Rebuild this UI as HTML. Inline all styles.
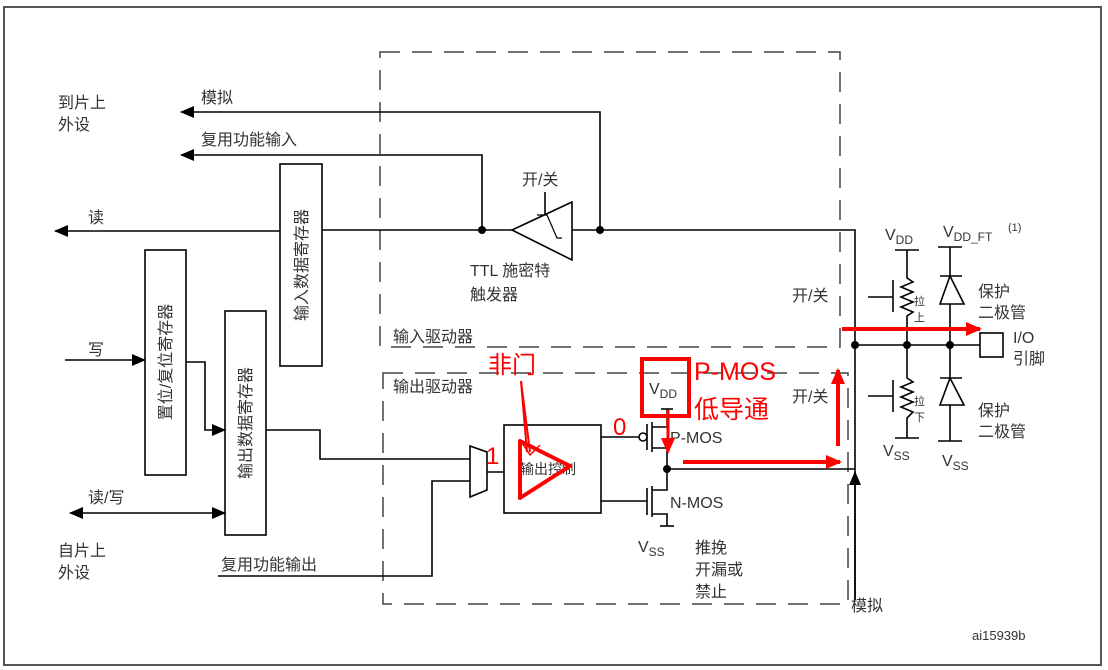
<!DOCTYPE html>
<html><head><meta charset="utf-8"><style>
html,body{margin:0;padding:0;background:#fff;}
svg{display:block;}
text{font-family:"Liberation Sans","Noto Sans CJK SC",sans-serif;fill:#333;}
</style></head><body>
<svg width="1108" height="670" viewBox="0 0 1108 670" xmlns="http://www.w3.org/2000/svg">
<defs>
<marker id="ab2" markerWidth="14" markerHeight="12" refX="13" refY="6" orient="auto-start-reverse" markerUnits="userSpaceOnUse"><path d="M0,0 L14,6 L0,12 z" fill="#000"/></marker>
<marker id="ar" markerWidth="16" markerHeight="14" refX="14" refY="7" orient="auto" markerUnits="userSpaceOnUse"><path d="M0,0 L16,7 L0,14 z" fill="#f00"/></marker>
</defs>
<rect x="4" y="7" width="1097" height="658" fill="none" stroke="#555" stroke-width="2"/>

<g fill="none" stroke="#444" stroke-width="1.5" stroke-dasharray="20,12">
<rect x="380" y="52" width="460" height="295"/>
<rect x="383" y="373" width="465" height="231"/>
</g>

<g stroke="#000" stroke-width="1.6" fill="none">
<polyline points="600,230 600,112 181,112" marker-end="url(#ab2)"/>
<polyline points="482,230 482,155 181,155" marker-end="url(#ab2)"/>
<line x1="280" y1="231" x2="55" y2="231" marker-end="url(#ab2)"/>
<line x1="322" y1="230" x2="512" y2="230"/>
<polyline points="572,230 855,230 855,600"/>
<line x1="855" y1="600" x2="855" y2="472" marker-end="url(#ab2)"/>
<polygon points="512,230 572,202 572,260" fill="#fff"/>
<polyline points="537,215 547,215 557,238 562,238" stroke-width="1.2"/>
<line x1="545" y1="192" x2="545" y2="214"/>
<rect x="280" y="164" width="42" height="202" fill="#fff"/>
<rect x="145" y="250" width="41" height="225" fill="#fff"/>
<rect x="225" y="311" width="41" height="224" fill="#fff"/>
<line x1="65" y1="360" x2="145" y2="360" marker-end="url(#ab2)"/>
<polyline points="186,362 205,362 205,430 225,430" marker-end="url(#ab2)"/>
<line x1="70" y1="513" x2="225" y2="513" marker-start="url(#ab2)" marker-end="url(#ab2)"/>
<polyline points="266,430 320,430 320,459 470,459"/>
<polyline points="218,576 432,576 432,481 470,481"/>
<polygon points="470,446 487,452 487,490 470,497" fill="#fff"/>
<line x1="487" y1="472" x2="504" y2="472"/>
<rect x="504" y="425" width="97" height="88" fill="#fff"/>
<line x1="601" y1="437" x2="639" y2="437"/>
<circle cx="643" cy="437" r="4" fill="#fff"/>
<line x1="647" y1="424" x2="647" y2="450"/>
<line x1="652" y1="422" x2="652" y2="452"/>
<polyline points="652,427 667,427 667,409"/>
<line x1="661" y1="409" x2="673" y2="409"/>
<polyline points="652,448 667,448 667,469"/>
<line x1="601" y1="501" x2="647" y2="501"/>
<line x1="647" y1="488" x2="647" y2="515"/>
<line x1="652" y1="486" x2="652" y2="517"/>
<polyline points="667,469 667,490 652,490"/>
<polyline points="652,514 667,514 667,526"/>
<line x1="660" y1="526" x2="674" y2="526"/>
<line x1="667" y1="469" x2="855" y2="469"/>
<line x1="855" y1="345" x2="980" y2="345"/>
<rect x="980" y="333" width="23" height="24" fill="#fff"/>
<line x1="895" y1="250" x2="919" y2="250"/>
<polyline points="907,250 907,278 913,282 901,287 913,292 901,297 913,302 901,307 913,312 907,316 907,345"/>
<line x1="893" y1="280" x2="893" y2="312"/>
<line x1="868" y1="297" x2="893" y2="297"/>
<polyline points="907,345 907,378 913,382 901,387 913,392 901,397 913,402 901,407 913,412 907,418 907,438"/>
<line x1="895" y1="438" x2="919" y2="438"/>
<line x1="893" y1="380" x2="893" y2="412"/>
<line x1="868" y1="396" x2="893" y2="396"/>
<line x1="938" y1="247" x2="962" y2="247"/>
<line x1="950" y1="247" x2="950" y2="441"/>
<polygon points="950,276 940,304 964,304" fill="#fff"/>
<line x1="940" y1="276" x2="962" y2="276"/>
<polygon points="950,378 940,405 964,405" fill="#fff"/>
<line x1="940" y1="378" x2="962" y2="378"/>
<line x1="938" y1="441" x2="962" y2="441"/>
</g>
<g fill="#000">
<circle cx="482" cy="230" r="4"/><circle cx="600" cy="230" r="4"/>
<circle cx="855" cy="345" r="4"/><circle cx="907" cy="345" r="4"/><circle cx="950" cy="345" r="4"/>
<circle cx="667" cy="469" r="4"/>
</g>

<g font-size="16">
<text x="58" y="108">到片上</text><text x="58" y="130">外设</text>
<text x="201" y="103">模拟</text>
<text x="201" y="145">复用功能输入</text>
<text x="88" y="223">读</text>
<text x="88" y="355">写</text>
<text x="88" y="503">读/写</text>
<text x="58" y="556">自片上</text><text x="58" y="578">外设</text>
<text x="221" y="570">复用功能输出</text>
<text x="522" y="185">开/关</text>
<text x="470" y="276">TTL 施密特</text>
<text x="470" y="300">触发器</text>
<text x="393" y="342">输入驱动器</text>
<text x="393" y="392">输出驱动器</text>
<text x="520" y="474" font-size="14">输出控制</text>
<text x="792" y="301">开/关</text>
<text x="792" y="402">开/关</text>
<text x="670" y="443">P-MOS</text>
<text x="670" y="508">N-MOS</text>
<text x="638" y="552">V<tspan font-size="12" dy="4">SS</tspan></text>
<text x="695" y="553">推挽</text><text x="695" y="575">开漏或</text><text x="695" y="597">禁止</text>
<text x="851" y="611">模拟</text>
<text x="649" y="394">V<tspan font-size="12" dy="4">DD</tspan></text>
<text x="885" y="240">V<tspan font-size="12" dy="4">DD</tspan></text>
<text x="943" y="237">V<tspan font-size="12" dy="4">DD_FT</tspan></text>
<text x="1008" y="231" font-size="11">(1)</text>
<text x="883" y="456">V<tspan font-size="12" dy="4">SS</tspan></text>
<text x="942" y="466">V<tspan font-size="12" dy="4">SS</tspan></text>
<text x="978" y="297">保护</text><text x="978" y="318">二极管</text>
<text x="978" y="416">保护</text><text x="978" y="437">二极管</text>
<text x="1013" y="343">I/O</text><text x="1013" y="364">引脚</text>
<text x="972" y="640" font-size="13" fill="#000">ai15939b</text>
</g>
<g font-size="11"><text x="914" y="305">拉</text><text x="914" y="321">上</text><text x="914" y="405">拉</text><text x="914" y="421">下</text></g>
<g font-size="16">
<text transform="translate(307,265) rotate(-90)" text-anchor="middle">输入数据寄存器</text>
<text transform="translate(171,362) rotate(-90)" text-anchor="middle">置位/复位寄存器</text>
<text transform="translate(251,423) rotate(-90)" text-anchor="middle">输出数据寄存器</text>
</g>

<g stroke="#f00" fill="none">
<polygon points="520,441 520,498 570,466" stroke-width="4" stroke-linejoin="round"/>
<line x1="521" y1="381" x2="530" y2="452" stroke-width="2"/>
<line x1="521" y1="381" x2="527" y2="452" stroke-width="2"/>
<polyline points="520,440 530,455 540,445" stroke-width="1.5"/>
<rect x="642" y="359" width="47" height="57" stroke-width="4"/>
<line x1="668" y1="410" x2="668" y2="452" stroke-width="3" marker-end="url(#ar)"/>
<line x1="683" y1="462" x2="840" y2="462" stroke-width="4" marker-end="url(#ar)"/>
<line x1="838" y1="446" x2="838" y2="370" stroke-width="4" marker-end="url(#ar)"/>
<line x1="842" y1="329" x2="980" y2="329" stroke-width="4" marker-end="url(#ar)"/>
</g>
<g font-size="24">
<text x="488" y="373" style="fill:#f00">非门</text>
<text x="486" y="464" style="fill:#f00">1</text>
<text x="613" y="435" style="fill:#f00">0</text>
<text x="694" y="380" style="fill:#f00" font-size="25">P-MOS</text>
<text x="694" y="418" style="fill:#f00" font-size="25">低导通</text>
</g>
</svg>
</body></html>
